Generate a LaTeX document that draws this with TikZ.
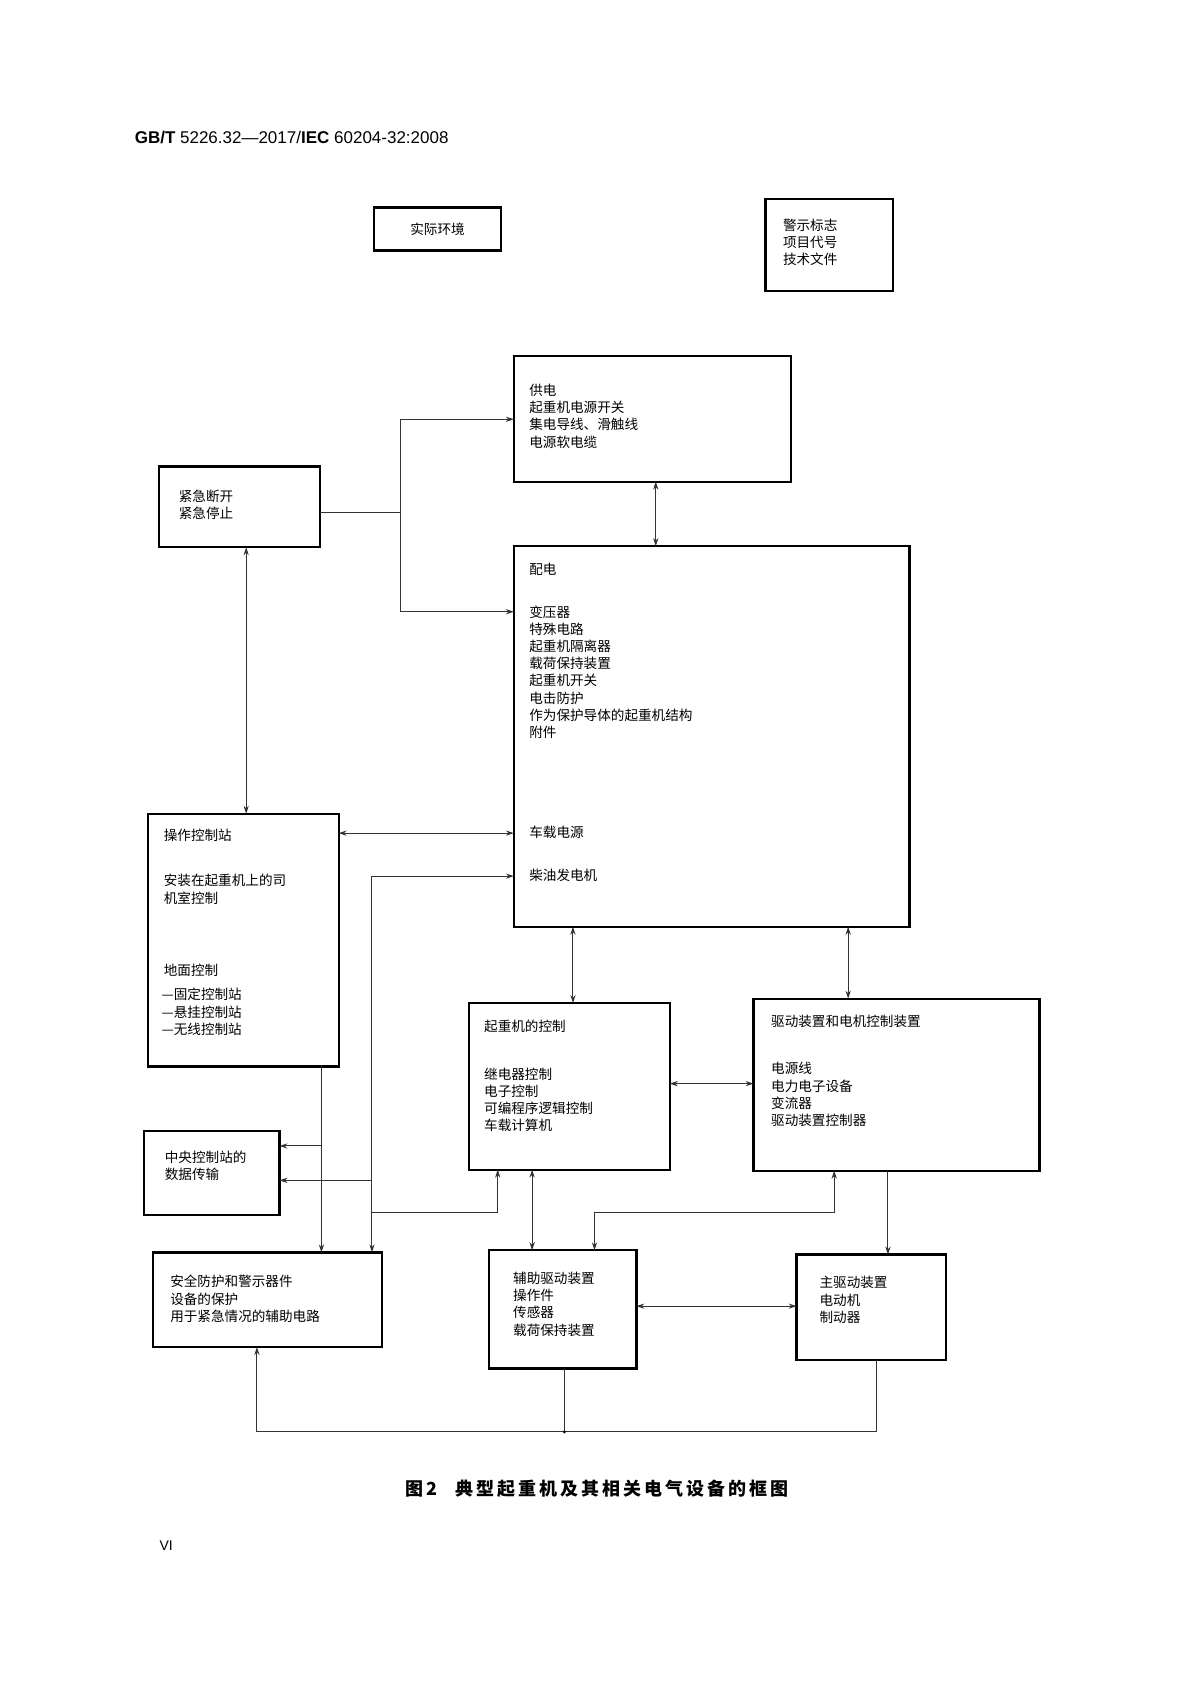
\documentclass[tikz,border=0pt]{standalone}
\usepackage{fontspec}
\setmainfont{Liberation Sans}
\newfontfamily\cjk{Noto Sans CJK SC}
\usetikzlibrary{arrows.meta}
\begin{document}
\begin{tikzpicture}[x=0.5375pt,y=-0.5375pt,
  box/.style={draw,line width=1.1pt},
  txt/.style={anchor=north west,inner sep=0pt,align=left,font=\cjk\fontsize{6.8}{8.6}\selectfont},
  ln/.style={line width=0.5pt,draw=black!80},
  ar/.style={ln,-{Stealth[length=4pt,width=2.6pt]}},
  dar/.style={ln,{Stealth[length=4pt,width=2.6pt]}-{Stealth[length=4pt,width=2.6pt]}}]
\useasboundingbox (0,0) rectangle (1108,1566.5);
\node[anchor=west,inner sep=0pt,font=\fontsize{8.5}{10}\selectfont] (hdr) at (125,128) {\textbf{GB/T} 5226.32—2017/\textbf{IEC} 60204-32:2008};
% boxes
\draw[box] (348,193) rectangle (466,233);
\node[inner sep=0pt,font=\cjk\fontsize{6.8}{8.6}\selectfont] (env) at (407,213) {实际环境};
\draw[box] (712,185) rectangle (831,271);
\node[txt] (warn) at (728,203) {警示标志\\项目代号\\技术文件};
\draw[box] (478,331) rectangle (736,448);
\coordinate (gd) at (607,390);
\node[txt] (gdt) at (492,357) {供电\\起重机电源开关\\集电导线、滑触线\\电源软电缆};
\draw[box] (148,434) rectangle (298,509);
\node[txt] (jj) at (166,455) {紧急断开\\紧急停止};
\draw[box] (478,508) rectangle (846,862);
\node[txt] (pd1) at (492,523) {配电};
\node[txt] (pd2) at (492,563) {变压器\\特殊电路\\起重机隔离器\\载荷保持装置\\起重机开关\\电击防护\\作为保护导体的起重机结构\\附件};
\node[txt] (pd3) at (492,768) {车载电源};
\node[txt] (pd4) at (492,808) {柴油发电机};
\draw[box] (138,757) rectangle (315,992);
\node[txt] (cz1) at (152,771) {操作控制站};
\node[txt] (cz2) at (152,813) {安装在起重机上的司\\机室控制};
\node[txt] (cz3) at (152,896) {地面控制};
\node[txt] (cz4) at (150,919) {—固定控制站\\—悬挂控制站\\—无线控制站};
\draw[box] (436,933) rectangle (623,1088);
\node[txt] (kz1) at (450,948) {起重机的控制};
\node[txt] (kz2) at (450,993) {继电器控制\\电子控制\\可编程序逻辑控制\\车载计算机};
\draw[box] (701,929) rectangle (967,1089);
\node[txt] (qd1) at (717,944) {驱动装置和电机控制装置};
\node[txt] (qd2) at (717,988) {电源线\\电力电子设备\\变流器\\驱动装置控制器};
\draw[box] (134,1052) rectangle (260,1130);
\node[txt] (zy) at (153,1070) {中央控制站的\\数据传输};
\draw[box] (142,1165) rectangle (355,1253);
\node[txt] (aq) at (158,1186) {安全防护和警示器件\\设备的保护\\用于紧急情况的辅助电路};
\draw[box] (455,1163) rectangle (592,1273);
\node[txt] (fz) at (477,1183) {辅助驱动装置\\操作件\\传感器\\载荷保持装置};
\draw[box] (741,1167) rectangle (880,1265);
\node[txt] (zq) at (762,1187) {主驱动装置\\电动机\\制动器};
% connectors
\draw[ln] (298,477) -- (373,477);
\draw[ar] (373,569) |- (478,390);
\draw[ar] (373,477) |- (478,569);
\draw[dar] (610,448) -- (610,508);
\draw[dar] (229,509) -- (229,757);
\draw[dar] (315,775) -- (478,775);
\draw[ar] (346,1098) |- (478,815);
\draw[ar] (346,1098) -- (346,1165);
\draw[ar] (346,1098) -- (260,1098);
\draw[ar] (346,1128) -| (463,1088);
\draw[ar] (299,992) -- (299,1165);
\draw[ar] (299,1066) -- (260,1066);
\draw[dar] (533,862) -- (533,933);
\draw[dar] (789,862) -- (789,929);
\draw[dar] (623,1008) -- (701,1008);
\draw[dar] (495,1088) -- (495,1163);
\draw[dar] (776,1089) |- (665,1128) -| (553,1163);
\draw[ar] (826,1089) -- (826,1167);
\draw[dar] (592,1215) -- (741,1215);
\draw[ln] (525,1273) -- (525,1332);
\draw[ln] (815,1265) |- (525,1332);
\draw[ar] (525,1332) -| (239,1253);
\fill (525,1332) circle (1.5);
\node[font=\cjk\bfseries\fontsize{9}{11}\selectfont] (cap) at (555,1385) {图\,2\quad 典\,型\,起\,重\,机\,及\,其\,相\,关\,电\,气\,设\,备\,的\,框\,图};
\node[anchor=west,inner sep=0pt,font=\fontsize{7}{8}\selectfont] (pg) at (148,1438) {VI};
\end{tikzpicture}
\end{document}
